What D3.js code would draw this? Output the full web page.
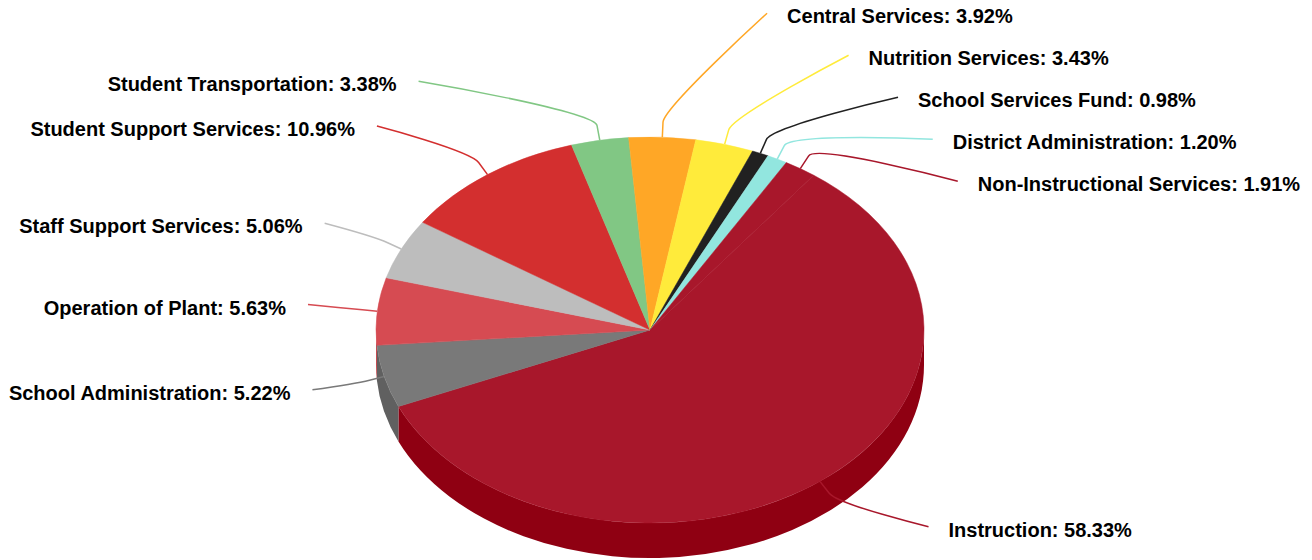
<!DOCTYPE html>
<html>
<head>
<meta charset="utf-8">
<script src="https://cdn.jsdelivr.net/npm/d3@7"></script>
<style>
  html, body { margin: 0; padding: 0; background: #ffffff; }
  svg { display: block; }
  .label { font-family: "Liberation Sans", Arial, Helvetica, sans-serif; font-weight: bold; font-size: 20px; fill: #000000; }
</style>
</head>
<body>
<svg id="chart" width="1312" height="560"></svg>
<script>
// Budget shares by function (percent of total)
const categories = [
  "Instruction",
  "School Administration",
  "Operation of Plant",
  "Staff Support Services",
  "Student Support Services",
  "Student Transportation",
  "Central Services",
  "Nutrition Services",
  "School Services Fund",
  "District Administration",
  "Non-Instructional Services"
];
const shares = [58.33, 5.22, 5.63, 5.06, 10.96, 3.38, 3.92, 3.43, 0.98, 1.20, 1.91];
const colors = [
  "#a8172b", "#797979", "#d64b52", "#bdbdbd", "#d32f2f", "#81c784",
  "#ffa726", "#ffeb3b", "#212121", "#92e6df", "#a8172b"
];

// Tilted-pie geometry
const W = 1312, H = 560;
const cx = 650, cy = 330;      // centre of the top face
const rx = 274, ry = 193;      // top face ellipse radii
const depth = 35;              // thickness of the disc
const startDeg = 36.7;         // rotation of the first slice

const svg = d3.select("#chart");

const pie = d3.pie().sort(null).value(d => d.value)
  .startAngle(startDeg * Math.PI / 180)
  .endAngle(startDeg * Math.PI / 180 + 2 * Math.PI);

const data = categories.map((name, i) => ({ name, value: shares[i], color: colors[i] }));
const arcs = pie(data);

// angle measured clockwise from 12 o'clock, projected onto an ellipse
const pt = (a, ax = rx, ay = ry, dy = 0) => [cx + ax * Math.sin(a), cy - ay * Math.cos(a) + dy];

const darken = c => {
  const col = d3.rgb(c);
  return d3.rgb(Math.max(0, col.r - 25.5), Math.max(0, col.g - 25.5), Math.max(0, col.b - 25.5)).toString();
};

// Outer walls: only the front half (pi/2 .. 3pi/2) is visible
const wallG = svg.append("g");
arcs.forEach(a => {
  const s = Math.max(a.startAngle, Math.PI / 2);
  const e = Math.min(a.endAngle, 3 * Math.PI / 2);
  if (e <= s) return;
  const p0 = pt(s), p1 = pt(e);
  const q0 = pt(s, rx, ry, depth), q1 = pt(e, rx, ry, depth);
  const large = (e - s) > Math.PI ? 1 : 0;
  const d = `M${p0[0]},${p0[1]} A${rx},${ry} 0 ${large} 1 ${p1[0]},${p1[1]} ` +
            `L${q1[0]},${q1[1]} A${rx},${ry} 0 ${large} 0 ${q0[0]},${q0[1]} Z`;
  wallG.append("path").attr("d", d).attr("fill", darken(a.data.color));
});

// Top faces
const topG = svg.append("g");
arcs.forEach(a => {
  const p0 = pt(a.startAngle), p1 = pt(a.endAngle);
  const large = (a.endAngle - a.startAngle) > Math.PI ? 1 : 0;
  const d = `M${cx},${cy} L${p0[0]},${p0[1]} A${rx},${ry} 0 ${large} 1 ${p1[0]},${p1[1]} Z`;
  topG.append("path").attr("d", d).attr("fill", a.data.color)
    .attr("stroke", a.data.color).attr("stroke-width", 0.5);
});

// Data labels: natural height, then spread apart on each side
const labelSpread = 252;            // vertical reach of natural label positions
const labelRx = 343, labelRy = 337; // ring the connector ends sit on
const gap = 42, minY = 13, maxY = 545;

const items = arcs.map(a => {
  let mid = (a.startAngle + a.endAngle) / 2;
  const m = ((mid % (2 * Math.PI)) + 2 * Math.PI) % (2 * Math.PI);
  return { arc: a, mid, right: m < Math.PI, target: cy - 1 - labelSpread * Math.cos(mid) };
});

function distribute(list) {
  list.sort((a, b) => a.target - b.target);
  let groups = list.map(d => ({ m: [d] }));
  const place = g => {
    const n = g.m.length;
    let top = d3.mean(g.m, d => d.target) - (n - 1) * gap / 2;
    top = Math.max(minY, Math.min(top, maxY - (n - 1) * gap));
    g.top = top;
  };
  groups.forEach(place);
  let changed = true;
  while (changed) {
    changed = false;
    for (let i = 1; i < groups.length; i++) {
      const p = groups[i - 1], c = groups[i];
      if (c.top - (p.top + (p.m.length - 1) * gap) < gap - 1e-6) {
        const g = { m: p.m.concat(c.m) };
        place(g);
        groups.splice(i - 1, 2, g);
        changed = true;
        break;
      }
    }
  }
  groups.forEach(g => g.m.forEach((d, k) => { d.y = g.top + k * gap; }));
}
distribute(items.filter(d => d.right));
distribute(items.filter(d => !d.right));

const connG = svg.append("g");
const textG = svg.append("g");
items.forEach(d => {
  const dy = d.y - cy;
  const dx = labelRx * Math.sqrt(Math.max(0, 1 - (dy / labelRy) ** 2));
  const lx = d.right ? cx + dx : cx - dx;
  const touch = pt(d.mid);
  const brk = pt(d.mid, rx + 15, ry + 15);
  const c2 = [2 * brk[0] - touch[0], 2 * brk[1] - touch[1]];
  const path = `M${lx},${d.y} C${lx},${d.y} ${c2[0]},${c2[1]} ${brk[0]},${brk[1]} L${touch[0]},${touch[1]}`;
  connG.append("path").attr("d", path).attr("fill", "none")
    .attr("stroke", d.arc.data.color).attr("stroke-width", 1.5);
  textG.append("text").attr("class", "label")
    .attr("x", d.right ? lx + 20 : lx - 22)
    .attr("y", d.y + 10)
    .attr("text-anchor", d.right ? "start" : "end")
    .text(`${d.arc.data.name}: ${d.arc.data.value.toFixed(2)}%`);
});
</script>
</body>
</html>
